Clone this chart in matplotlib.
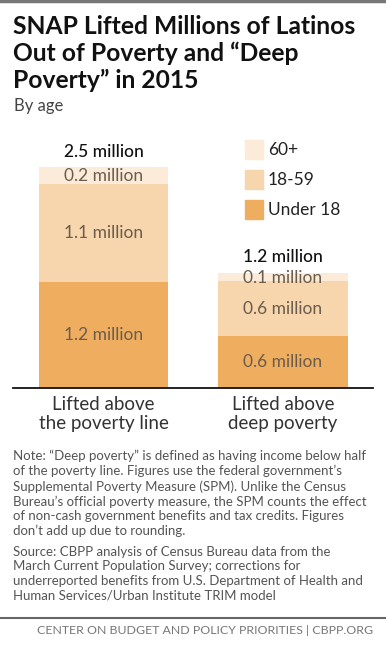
import matplotlib
matplotlib.use("Agg")
import matplotlib.pyplot as plt
from matplotlib.patches import Rectangle
from matplotlib.lines import Line2D

plt.rcParams['font.family'] = ['Lato', 'DejaVu Sans']

# data (millions of people)
categories = ['Lifted above\nthe poverty line', 'Lifted above\ndeep poverty']
under18 = [1.19, 0.59]
age18_59 = [1.11, 0.61]
age60 = [0.19, 0.10]
under18_lbl = ['1.2 million', '0.6 million']
age18_59_lbl = ['1.1 million', '0.6 million']
age60_lbl = ['0.2 million', '0.1 million']
total_lbl = ['2.5 million', '1.2 million']
series = ['60+', '18-59', 'Under 18']
colors = {'Under 18': '#efae5f', '18-59': '#f7d5ad', '60+': '#fcebd9'}

W, H = 386, 651
fig = plt.figure(figsize=(W / 100, H / 100), dpi=100)

def fx(x):
    return x / W

def fy(y):
    return 1 - y / H

# top rule
fig.add_artist(Line2D([0, 1], [fy(1), fy(1)], color='#777777', lw=2.5))

for y, line in [(26, 'SNAP Lifted Millions of Latinos'),
                (53, 'Out of Poverty and \u201cDeep'),
                (80, 'Poverty\u201d in 2015')]:
    fig.text(fx(13), fy(y), line, fontsize=17.7, fontweight='bold', va='center', color='#111111')
fig.text(fx(14), fy(106), 'By age', fontsize=12, va='center', color='#444444')

# chart axes
ax_top, ax_bot, ax_l, ax_r = 130, 388, 13, 373
ax = fig.add_axes([fx(ax_l), fy(ax_bot), fx(ax_r - ax_l), (ax_bot - ax_top) / H])
ax.set_xlim(-0.504, 1.501)
ax.set_ylim(0, 2.905)
x = [0, 1]
w = 0.72
b2 = [a + b for a, b in zip(under18, age18_59)]
tot = [a + b for a, b in zip(b2, age60)]
ax.bar(x, under18, width=w, color=colors['Under 18'])
ax.bar(x, age18_59, width=w, bottom=under18, color=colors['18-59'])
ax.bar(x, age60, width=w, bottom=b2, color=colors['60+'])

lab_col = '#6b5c4c'
for i in x:
    ax.text(i, under18[i] / 2, under18_lbl[i], ha='center', va='center', fontsize=12.5,
            color=lab_col)
    ax.text(i, under18[i] + age18_59[i] / 2, age18_59_lbl[i], ha='center', va='center',
            fontsize=12.5, color=lab_col)
    ax.text(i, b2[i] + age60[i] / 2 - 0.01, age60_lbl[i], ha='center', va='center',
            fontsize=12.5, color=lab_col)
    ax.text(i, tot[i] + 0.08, total_lbl[i], ha='center', va='bottom',
            fontsize=12.5, fontweight='medium', color='#111111')

for s in ['top', 'right', 'left']:
    ax.spines[s].set_visible(False)
ax.spines['bottom'].set_linewidth(1.3)
ax.spines['bottom'].set_color('#111111')
ax.set_yticks([])
ax.set_xticks(x)
ax.set_xticklabels(categories, fontsize=13.5, color='#333333', linespacing=1.1)
ax.tick_params(axis='x', length=0, pad=6)
ax.patch.set_alpha(0)

# legend
for k, name in enumerate(series):
    y0 = 140 + 30 * k
    fig.add_artist(Rectangle((fx(245), fy(y0 + 19)), fx(18), 19 / H, color=colors[name],
                             transform=fig.transFigure))
    fig.text(fx(268), fy(y0 + 10), name, fontsize=12.5, va='center', color='#222222')

note = ("Note: \u201cDeep poverty\u201d is defined as having income below half\n"
        "of the poverty line. Figures use the federal government\u2019s\n"
        "Supplemental Poverty Measure (SPM). Unlike the Census\n"
        "Bureau\u2019s official poverty measure, the SPM counts the effect\n"
        "of non-cash government benefits and tax credits. Figures\n"
        "don\u2019t add up due to rounding.")
source = ("Source: CBPP analysis of Census Bureau data from the\n"
          "March Current Population Survey; corrections for\n"
          "underreported benefits from U.S. Department of Health and\n"
          "Human Services/Urban Institute TRIM model")
fig.text(fx(13), fy(450), note, fontsize=9.5, va='top', color='#555555', linespacing=1.25)
fig.text(fx(13), fy(546), source, fontsize=9.5, va='top', color='#555555', linespacing=1.25)

fig.add_artist(Line2D([0, 1], [fy(618), fy(618)], color='#666666', lw=1.5))
fig.text(fx(373), fy(631), 'CENTER ON BUDGET AND POLICY PRIORITIES | CBPP.ORG', fontsize=8.9,
         ha='right', va='center', color='#777777')

fig.savefig('out.png', dpi=100, facecolor='white')
